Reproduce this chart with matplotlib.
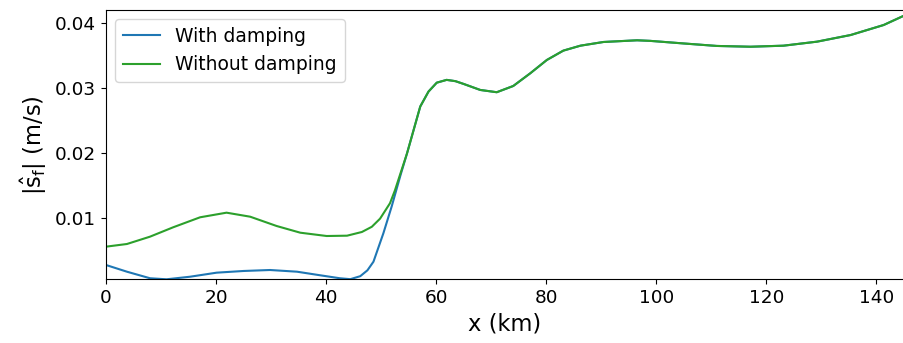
import matplotlib
matplotlib.use("Agg")
import matplotlib.pyplot as plt

x_with = [0, 3.8, 8, 11, 15.3, 20.1, 25, 29.8, 34.7, 38.9, 42.5, 44.4, 46.2, 47.5, 48.6, 50.4, 51.9, 53.5,
          54.7, 55.9, 57.1, 58.6, 60.1, 61.9, 63.5, 65, 68, 71, 74, 77.1, 80.1, 83.1, 86.2, 90.4, 96.5,
          98.9, 105, 111, 117.1, 123.1, 129.2, 135.3, 141.3, 145]
y_with = [0.00272, 0.00169, 0.00068, 0.00052, 0.00092, 0.00154, 0.0018, 0.00195, 0.00169, 0.00114, 0.00068,
          0.00054, 0.0010, 0.0019, 0.00323, 0.0076, 0.0117, 0.0165,
          0.0199, 0.0235, 0.0271, 0.0294, 0.03077, 0.0312, 0.0310, 0.03057, 0.02965, 0.0293, 0.03026, 0.03222,
          0.03426, 0.0357, 0.03646, 0.03703, 0.03729,
          0.0372, 0.0368, 0.03642, 0.0363, 0.03646, 0.03708, 0.0381, 0.03964, 0.04108]

x_without = [0, 3.8, 8, 12.2, 17.1, 21.9, 26.2, 31, 35.3, 40.1, 43.8, 46.5, 48.3, 49.8, 51.6, 52.5, 53.5,
             54.7, 55.9, 57.1, 58.6, 60.1, 61.9, 63.5, 65, 68, 71, 74, 77.1, 80.1, 83.1, 86.2, 90.4, 96.5,
             98.9, 105, 111, 117.1, 123.1, 129.2, 135.3, 141.3, 145]
y_without = [0.00554, 0.00595, 0.00708, 0.00852, 0.01006, 0.01077, 0.01015, 0.00872, 0.00769, 0.00718,
             0.00723, 0.0078, 0.0086, 0.00985, 0.01222, 0.0142, 0.0168,
             0.0199, 0.0235, 0.0271, 0.0294, 0.03077, 0.0312, 0.0310, 0.03057, 0.02965, 0.0293, 0.03026, 0.03222,
             0.03426, 0.0357, 0.03646, 0.03703, 0.03729,
             0.0372, 0.0368, 0.03642, 0.0363, 0.03646, 0.03708, 0.0381, 0.03964, 0.04108]

labels = ["With damping", "Without damping"]

fig = plt.figure(figsize=(9.04, 3.43), dpi=100)
ax = fig.add_axes([106/904, 1 - 279.3/343, 1 - 106/904, (279.3 - 10)/343])
ax.plot(x_with, y_with, color="#1f77b4", lw=1.5, label=labels[0])
ax.plot(x_without, y_without, color="#2ca02c", lw=1.5, label=labels[1])
ax.set_xlim(0, 145)
ax.set_ylim(0.00052, 0.04195)
ax.set_yticks([0.01, 0.02, 0.03, 0.04])
ax.set_xticks([0, 20, 40, 60, 80, 100, 120, 140])
ax.tick_params(labelsize=13.3)
ax.set_xlabel("x (km)", fontsize=16.3)
ax.set_ylabel(r"$|\hat{\mathrm{s}}_\mathrm{f}|$ (m/s)", fontsize=16.3)
ax.legend(loc="upper left", fontsize=13.5)
fig.savefig("out.png", dpi=100)
